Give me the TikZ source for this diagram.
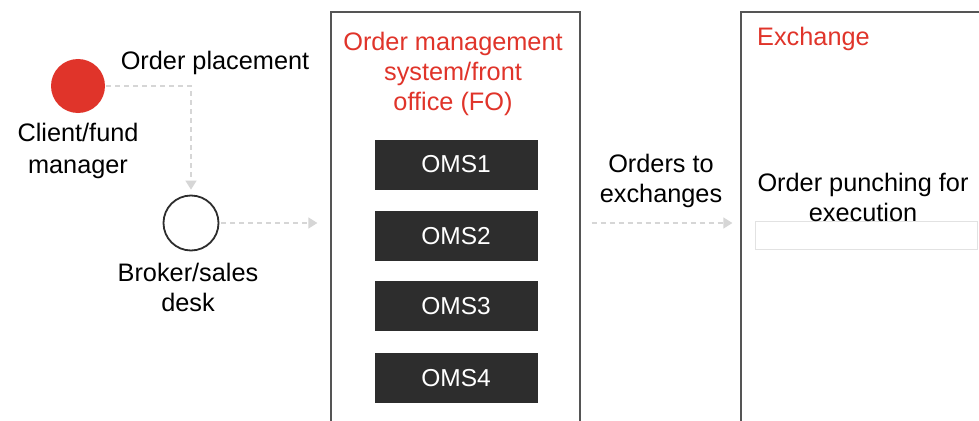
\documentclass[tikz,border=0pt]{standalone}
\usepackage{fontspec}
\setmainfont{Liberation Sans}
\usetikzlibrary{arrows.meta}
\definecolor{accred}{HTML}{E0342A}
\definecolor{boxdark}{HTML}{2D2D2D}
\definecolor{frame}{HTML}{555555}
\definecolor{dashgray}{HTML}{D6D6D6}
\tikzset{
  lbl/.style={font=\fontsize{25.3}{30}\selectfont, align=center, inner sep=0pt, text=black},
  redlbl/.style={lbl, text=accred},
  omsbox/.style={fill=boxdark, minimum width=163pt, minimum height=50pt, inner sep=0pt, text=white, font=\fontsize{24.5}{28}\selectfont},
  bigframe/.style={draw=frame, line width=1.3pt, inner sep=0pt},
  flow/.style={draw=dashgray, line width=1.3pt, dash pattern=on 5pt off 4pt, -{Triangle[length=9pt,width=11pt]}, dashgray}
}
\begin{document}
\begin{tikzpicture}[x=1pt,y=-1pt]
\clip (0,0) rectangle (979,420);
\fill[white] (0,0) rectangle (979,420);
% frames
\node[bigframe, minimum width=249pt, minimum height=430pt] (oms) at (455.5,227) {};
\node[bigframe, minimum width=260pt, minimum height=430pt] (exch) at (871,227) {};
% circles
\node[circle, fill=accred, minimum size=54pt, inner sep=0pt] (client) at (78,86) {};
\node[circle, draw=boxdark, line width=1.8pt, fill=white, minimum size=55pt, inner sep=0pt] (broker) at (191,223) {};
% labels
\node[lbl, font=\fontsize{25.3}{32}\selectfont] (clientlbl) at (78,151) {Client/fund\\manager};
\node[lbl] (brokerlbl) at (188,287.5) {Broker/sales\\desk};
\node[lbl] (placelbl) at (215,63) {Order placement};
\node[redlbl] (omstitle) at (453,74) {Order management\\system/front\\office (FO)};
\node[lbl] (ordlbl) at (661,181) {Orders to\\exchanges};
\node[redlbl, anchor=west] (exchtitle) at (757,39) {Exchange};
% OMS boxes
\node[omsbox] (oms1) at (456,164.5) {OMS1};
\node[omsbox] (oms2) at (456,236) {OMS2};
\node[omsbox] (oms3) at (456,306) {OMS3};
\node[omsbox] (oms4) at (456,378) {OMS4};
% exchange inner box
\node[draw=dashgray!70, line width=1pt, minimum width=222pt, minimum height=28pt, inner sep=0pt] (punchbox) at (866,235) {};
\node[lbl] (punchlbl) at (863,197.5) {Order punching for\\execution};
% connectors
\draw[flow, shorten <=1pt, shorten >=5pt] (client.east) -| (broker.north);
\draw[flow, shorten <=2pt, shorten >=13pt] (broker.east) -- (broker.east -| oms.west);
\draw[flow, shorten <=11pt, shorten >=8pt] (broker.east -| oms.east) -- (broker.east -| exch.west);
\end{tikzpicture}
\end{document}
